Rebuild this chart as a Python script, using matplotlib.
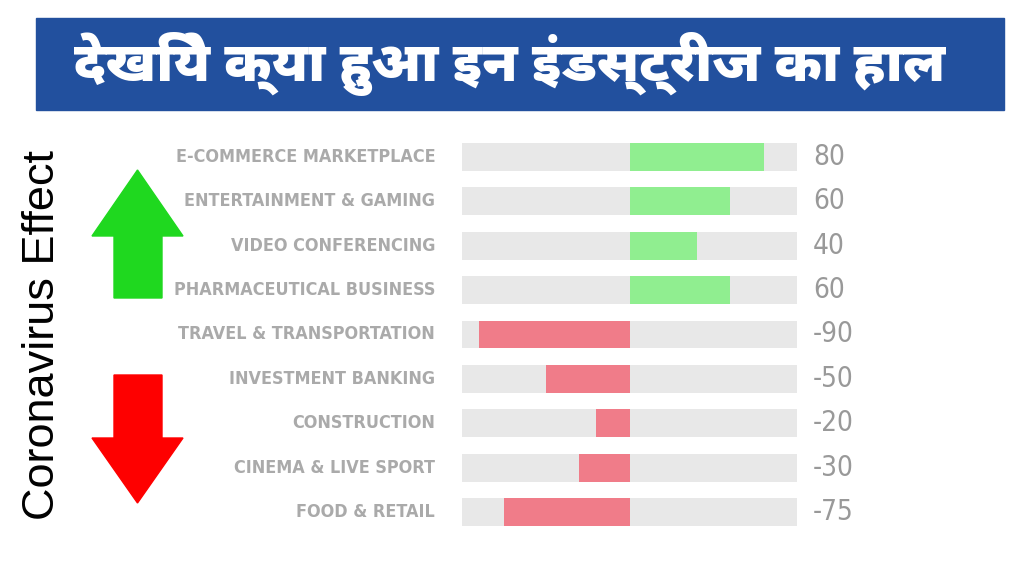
import matplotlib
matplotlib.use("Agg")
import matplotlib.pyplot as plt
from matplotlib import font_manager
from matplotlib.font_manager import FontProperties
from matplotlib.ft2font import FT2Font
from matplotlib.patches import Rectangle, Polygon

title = "देखिये क्या हुआ इन इंडस्ट्रीज का हाल"
side_label = "Coronavirus Effect"
categories = ["E-COMMERCE MARKETPLACE", "ENTERTAINMENT & GAMING", "VIDEO CONFERENCING",
              "PHARMACEUTICAL BUSINESS", "TRAVEL & TRANSPORTATION", "INVESTMENT BANKING",
              "CONSTRUCTION", "CINEMA & LIVE SPORT", "FOOD & RETAIL"]
values = [80, 60, 40, 60, -90, -50, -20, -30, -75]

STRETCH = {"ultra-condensed": 100, "extra-condensed": 200, "condensed": 300,
           "semi-condensed": 400, "normal": 500, "semi-expanded": 600,
           "expanded": 700, "extra-expanded": 800, "ultra-expanded": 900}
WEIGHT = {"normal": 400, "regular": 400, "book": 400, "medium": 500,
          "semibold": 600, "demibold": 600, "bold": 700, "heavy": 800, "black": 900}


def num(v, table):
    return v if isinstance(v, (int, float)) else table.get(str(v).lower(), 500)


def stretch_of(f):
    s = (f.name + " " + f.fname).lower().replace("-", "").replace(" ", "")
    if "extracondensed" in s or "ultracondensed" in s:
        return 200
    if "semicondensed" in s:
        return 400
    if "condensed" in s or "narrow" in s:
        return 300
    return num(f.stretch, STRETCH)


def narrow_font(weight):
    # narrowest installed sans face near the wanted weight
    best = None
    for f in font_manager.fontManager.ttflist:
        if not f.name.startswith(("Noto Sans", "DejaVu Sans", "Open Sans", "Roboto",
                                  "Liberation Sans", "Lato", "Inter")):
            continue
        if "Mono" in f.name or "CJK" in f.name or f.style != "normal":
            continue
        if len(f.name.split()) > 2 and not any(k in f.name for k in ("Condensed", "Narrow")):
            continue
        key = (stretch_of(f), abs(num(f.weight, WEIGHT) - weight))
        if best is None or key < best[0]:
            best = (key, f.fname)
    return FontProperties(fname=best[1]) if best else FontProperties(family="DejaVu Sans")


def deva_font():
    best = None
    for f in font_manager.fontManager.ttflist:
        try:
            if ord("द") not in FT2Font(f.fname).get_charmap():
                continue
        except Exception:
            continue
        key = ("Devanagari" not in f.name, -num(f.weight, WEIGHT))
        if best is None or key < best[0]:
            best = (key, f.fname)
    return FontProperties(fname=best[1]) if best else FontProperties(family="DejaVu Sans")


def fit_width(texts, width_px, max_size):
    # shrink a group of texts so the widest one is no wider than width_px
    fig.canvas.draw()
    r = fig.canvas.get_renderer()
    w = max(t.get_window_extent(r).width for t in texts)
    size = min(max_size, texts[0].get_fontsize() * width_px / w)
    for t in texts:
        t.set_fontsize(size)


label_fp = narrow_font(800)
label_fp.set_size(16)
value_fp = narrow_font(400)
value_fp.set_size(20)
title_fp = deva_font()
title_fp.set_size(31)

fig = plt.figure(figsize=(10.24, 5.76), dpi=100)
fig.patch.set_facecolor("white")

# decoration layer in pixel coords
deco = fig.add_axes([0, 0, 1, 1])
deco.set_xlim(0, 1024)
deco.set_ylim(576, 0)
deco.axis("off")
deco.add_patch(Rectangle((36, 18), 968, 92, color="#22509e"))
title_txt = deco.text(510, 64, title, color="white", ha="center", va="center",
                      fontproperties=title_fp)
deco.text(43, 335, side_label, rotation=90, fontsize=32.5, color="black",
          ha="center", va="center", family=["Liberation Sans", "DejaVu Sans"])
up = [(137.5, 170), (183, 236), (162, 236), (162, 298), (114, 298), (114, 236), (92, 236)]
down = [(114, 375), (162, 375), (162, 438), (183, 438), (137.5, 503), (92, 438), (114, 438)]
deco.add_patch(Polygon(up, closed=True, color="#1fd81f"))
deco.add_patch(Polygon(down, closed=True, color="#fe0000"))

# the bar chart
ax = fig.add_axes([462 / 1024, 0.0726, 335 / 1024, 0.6934])
y = list(range(len(categories)))
ax.barh(y, [200] * len(y), left=-100, height=0.63, color="#e8e8e8")
colors = ["#90ee90" if v > 0 else "#f07c89" for v in values]
ax.barh(y, values, height=0.63, color=colors)
labels = []
for i, (c, v) in enumerate(zip(categories, values)):
    labels.append(ax.text(-116, i, c, ha="right", va="center", color="#aaaaaa",
                          fontproperties=label_fp, clip_on=False))
    ax.text(109.5, i, str(v), ha="left", va="center", color="#999999",
            fontproperties=value_fp, clip_on=False)
ax.set_xlim(-100, 100)
ax.set_ylim(len(y) - 0.5, -0.5)
ax.axis("off")

fit_width(labels, 262, 16)
fit_width([title_txt], 870, 44)

fig.savefig("out.png", dpi=100)
